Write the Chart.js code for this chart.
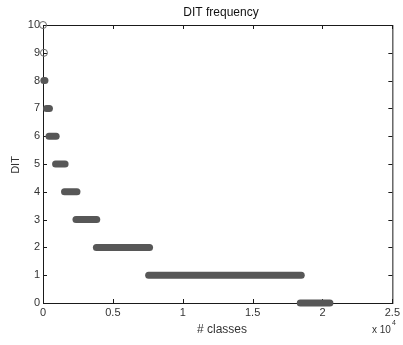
<!DOCTYPE html>
<html>
<head>
<meta charset="utf-8">
<script src="https://cdn.jsdelivr.net/npm/chart.js@4/dist/chart.umd.min.js"></script>
<style>
  html, body { margin: 0; padding: 0; background: #fff; }
  #wrap { width: 403px; height: 345px; }
</style>
</head>
<body>
<div id="wrap"><canvas id="c" width="403" height="345"></canvas></div>
<script>
'use strict';

// ── data (class index ranges per DIT level) ────────────────────────────────
const ditLevels  = [10, 9, 8, 7, 6, 5, 4, 3, 2, 1, 0];
const firstClass = [0, 70, 60, 250, 430, 900, 1540, 2360, 3820, 7560, 18410];
const lastClass  = [0, 70, 140, 460, 940, 1580, 2430, 3845, 7625, 18480, 20530];
const xTicks = [0, 5000, 10000, 15000, 20000, 25000];
const yTicks = [0, 1, 2, 3, 4, 5, 6, 7, 8, 9, 10];

const FONT = '"Liberation Sans", Arial, sans-serif';
const MARK = '#575757';

// ── datasets ────────────────────────────────────────────────────────────────
const datasets = ditLevels.map((lvl, i) => {
  const single = firstClass[i] === lastClass[i];
  const pts = single
    ? [{ x: firstClass[i], y: lvl }]
    : [{ x: firstClass[i], y: lvl }, { x: lastClass[i], y: lvl }];
  return {
    label: 'DIT ' + lvl,
    data: pts,
    showLine: !single,
    borderColor: single ? '#6a6a6a' : MARK,
    borderWidth: single ? 1 : 7,
    borderCapStyle: 'round',
    backgroundColor: 'rgba(0,0,0,0)',
    pointRadius: single ? 3.5 : 0,
    pointBorderWidth: 1,
    pointBorderColor: '#6a6a6a',
    clip: false,
  };
});

// ── matlab-ish box, inward ticks and labels ────────────────────────────────
const matlabAxes = {
  id: 'matlabAxes',
  beforeDatasetsDraw(chart) {
    const { ctx, chartArea: a, scales } = chart;
    ctx.save();
    ctx.strokeStyle = '#1a1a1a';
    ctx.lineWidth = 1;
    ctx.strokeRect(a.left + 0.5, a.top + 0.5, a.right - a.left, a.bottom - a.top);
    ctx.beginPath();
    xTicks.forEach(v => {
      const px = Math.round(scales.x.getPixelForValue(v)) + 0.5;
      ctx.moveTo(px, a.bottom); ctx.lineTo(px, a.bottom - 4);
      ctx.moveTo(px, a.top);    ctx.lineTo(px, a.top + 4);
    });
    yTicks.forEach(v => {
      const py = Math.round(scales.y.getPixelForValue(v)) + 0.5;
      ctx.moveTo(a.left, py);  ctx.lineTo(a.left + 4, py);
      ctx.moveTo(a.right, py); ctx.lineTo(a.right - 4, py);
    });
    ctx.stroke();
    ctx.restore();
  },
  afterDraw(chart) {
    const { ctx } = chart;
    ctx.save();
    ctx.fillStyle = '#111';
    ctx.textAlign = 'center';
    ctx.textBaseline = 'middle';
    ctx.font = '12px ' + FONT;
    ctx.fillText('DIT frequency', 221, 13);
    ctx.fillStyle = '#333';
    ctx.fillText('# classes', 222, 330);
    ctx.save();
    ctx.translate(16, 165);
    ctx.rotate(-Math.PI / 2);
    ctx.font = '11px ' + FONT;
    ctx.fillText('DIT', 0, 0);
    ctx.restore();
    ctx.font = '10px ' + FONT;
    ctx.textAlign = 'left';
    ctx.fillText('x 10', 372, 330);
    ctx.font = '7px ' + FONT;
    ctx.fillText('4', 392, 323);
    ctx.restore();
  },
};

new Chart(document.getElementById('c'), {
  type: 'scatter',
  data: { datasets },
  options: {
    responsive: false,
    animation: false,
    events: [],
    layout: { padding: { left: 0, top: 25, right: 7, bottom: 0 } },
    plugins: { legend: { display: false }, tooltip: { enabled: false } },
    scales: {
      x: {
        type: 'linear', min: 0, max: 25000,
        afterFit: s => { s.height = 42; },
        afterBuildTicks: s => { s.ticks = xTicks.map(v => ({ value: v })); },
        grid: { display: false, drawTicks: false, tickLength: 0 },
        border: { display: false },
        ticks: {
          padding: 3, maxRotation: 0, color: '#333',
          font: { family: FONT, size: 11 },
          callback: v => String(v / 10000),
        },
      },
      y: {
        type: 'linear', min: 0, max: 10,
        afterFit: s => { s.width = 43; },
        afterBuildTicks: s => { s.ticks = yTicks.map(v => ({ value: v })); },
        grid: { display: false, drawTicks: false, tickLength: 0 },
        border: { display: false },
        ticks: {
          padding: 3, color: '#333',
          font: { family: FONT, size: 11 },
        },
      },
    },
  },
  plugins: [matlabAxes],
});
</script>
</body>
</html>
